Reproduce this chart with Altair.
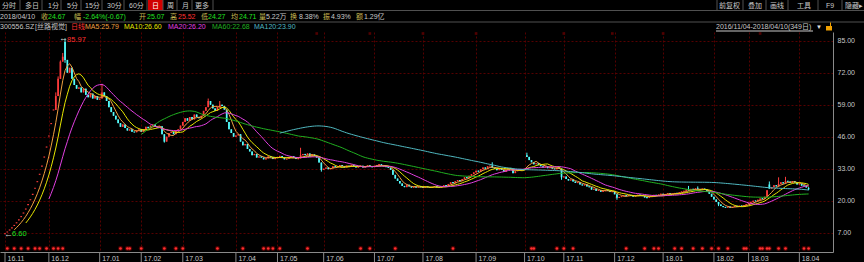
import altair as alt
import pandas as pd

# ---------------- data ----------------
# daily closes, 2016/11/04 .. 2018/04/10 (349 trading days)
closes = [
    # IPO run of one-price limit-up days
    6.60, 7.31, 8.10, 8.98, 9.95, 11.02, 12.21, 13.53, 14.99, 16.61, 18.40,
    20.39, 22.59, 25.03, 27.73, 30.73, 34.05, 37.73, 41.80, 46.31, 51.32, 56.86,
    62.5, 69.5, 76.5, 78.5, 77.2,
    72.0, 74.0, 69.5, 67.0, 65.5,
    66.0, 64.0, 65.5, 63.0, 62.0, 63.5, 61.5, 62.5, 61.0,
    61.5, 64.0, 62.5,
    60.5, 58.0, 56.0, 54.5, 53.0,
    51.5, 50.0, 51.0, 49.5,
    48.5, 49.0, 48.0, 47.8, 48.5, 49.0, 48.0, 49.0,
    50.0, 49.5, 50.5, 51.0, 50.0, 49.8, 50.2,
    47.0, 44.0,
    46.0, 47.5, 48.0, 47.0, 48.5, 49.0,
    50.5, 52.0, 53.5, 52.5, 54.0, 53.0, 55.0, 54.0, 53.5, 54.5,
    56.5, 58.0, 60.5, 59.0, 57.5,
    56.5, 58.0, 59.0, 58.5, 57.0,
    52.0, 49.0, 47.5, 46.0,
    46.5, 47.0, 44.0, 42.5, 43.0,
    41.0, 40.0, 38.5, 39.0, 37.5, 38.0,
    37.5, 36.8, 37.2, 38.0, 37.6, 36.9, 37.3, 37.8, 38.2, 37.5, 36.8, 37.0,
    37.6, 38.1, 37.4, 36.9, 37.2, 38.5,
    39.0, 38.5, 39.2, 38.0, 38.8, 38.2, 37.5,
    35.5, 32.5, 33.0,
    33.5, 32.8, 33.2, 34.0, 33.6, 34.0,
    34.5, 34.0, 33.5, 34.2, 33.8, 34.6, 33.9, 33.5,
    33.8, 34.2, 33.5, 33.9, 34.3, 34.0, 33.6, 34.1, 34.5, 34.8, 34.2, 34.0, 33.7, 33.4,
    32.5, 30.5, 29.0, 28.0,
    27.0, 26.0, 25.5, 26.5, 25.8, 25.3,
    25.6, 25.4, 25.8, 25.5, 25.3, 25.7, 25.5, 25.2, 25.6, 25.9, 25.4, 25.3, 25.7,
    26.3, 26.0, 26.8, 27.5, 27.2, 27.9, 28.4, 28.0, 28.8, 29.5, 29.2, 30.1, 30.8,
    31.5, 32.2, 31.8, 32.8, 33.5, 33.0, 34.0, 34.2, 33.4,
    33.0, 32.4, 33.2, 32.5, 31.8, 32.6, 33.3, 32.9,
    31.2, 32.0, 32.4, 32.8, 32.5, 33.0,
    37.8, 36.5, 35.6, 34.8, 35.2,
    34.6, 34.0, 33.5, 33.9, 33.2, 33.6, 33.0, 32.8, 33.4, 33.0,
    29.5, 29.8,
    28.8, 28.2, 28.6, 27.8, 27.2, 27.5, 26.6, 26.2, 26.6, 25.8, 25.5,
    24.5, 24.8, 24.0, 24.3, 23.6, 23.9, 24.4, 24.0, 23.5, 23.8,
    22.6, 21.2,
    21.5, 21.8, 22.2, 21.9, 22.3, 22.0, 21.7, 22.1, 22.4, 22.2, 21.9, 21.3,
    21.2, 21.7, 22.0, 22.3, 22.1, 22.5, 22.8, 22.4, 22.7, 23.0, 22.8,
    22.8, 23.1, 23.0, 23.4, 23.7,
    24.0, 24.5, 24.2, 24.8, 24.5, 25.0, 24.6, 24.3, 24.9, 24.5,
    23.6, 22.8, 21.6, 20.5, 19.5, 18.5,
    17.8, 17.4, 17.2, 17.6, 17.1, 17.4, 17.9, 17.5, 18.0, 17.7, 18.2, 18.6,
    19.1, 19.5, 20.0, 19.8, 20.4, 20.9, 20.7,
    21.6, 24.2, 24.9, 25.5, 26.3, 25.8, 26.8, 27.5, 27.0, 28.0,
    27.8, 27.2, 28.0, 27.4, 26.6,
    26.9, 26.1, 26.0, 25.34, 24.67,
]
one_price_days = 22          # opening run where open = high = low = close
open_gaps = {26: 84.5, 226: 38.5, 331: 26.6, 348: 25.07}
high_wicks = {22: 64.0, 23: 70.5, 24: 77.0, 25: 80.0, 26: 85.97, 42: 67.5, 88: 61.5,
              93: 60.5, 128: 41.5, 211: 35.6, 226: 39.5, 296: 26.0, 300: 25.8,
              331: 27.8, 335: 29.5, 338: 29.7, 348: 25.52}
low_wicks = {26: 76.0, 69: 43.6, 137: 31.8, 241: 28.5, 265: 20.4, 309: 17.8, 348: 24.27}

event_days = [1, 4, 7, 10, 13, 15, 18, 21, 23, 25, 50, 53, 54, 59, 69, 74, 77,
              92, 103, 112, 114, 116, 119, 131, 154, 158, 169, 194, 228, 229, 239,
              242, 246, 269, 277, 281, 283, 290, 293, 298, 302, 306, 309, 313, 320,
              321, 327, 328, 330, 331, 335, 338, 346, 348]
flag_days = [135, 158, 181, 204, 242, 263, 285, 327]

month_days = [0, 19, 41, 59, 77, 100, 118, 138, 160, 181, 204, 225, 242, 264, 285, 307, 322, 344]
month_labels = ["16.11", "16.12", "17.01", "17.02", "17.03", "17.04", "17.05", "17.06",
                "17.07", "17.08", "17.09", "17.10", "17.11", "17.12", "18.01", "18.02",
                "18.03", "18.04"]
price_ticks = [7, 20, 33, 46, 59, 72, 85]

ma_periods = [5, 10, 20, 60, 120]
ma_colors = ["#f0a040", "#e6e600", "#e040e0", "#20b020", "#50b8c0"]

# ---------------- build table ----------------
rows = []
for i, c in enumerate(closes):
    if i < one_price_days:
        o = c
    elif i in open_gaps:
        o = open_gaps[i]
    else:
        o = closes[i - 1]
    h = max(o, c, high_wicks.get(i, 0))
    lo = min(o, c, low_wicks.get(i, 1e9))
    bl, bh = min(o, c), max(o, c)
    if bh - bl < 0.45:
        m = (bl + bh) / 2
        bl, bh = m - 0.225, m + 0.225
    d = "down" if c < o else "up"
    rows.append(dict(day=i, open=o, close=c, high=h, low=lo, blo=bl, bhi=bh, dir=d))
df = pd.DataFrame(rows)

RED = "#ff3c3c"
CYAN = "#54fcfc"
GRID = "#560000"
AXC = "#8a8a8a"
LAB = "#c8c8c8"
FONT = "Liberation Sans, Noto Sans CJK SC"
FS = 7

xs = alt.Scale(domain=[0, 356.4], nice=False, zero=False)
ys = alt.Scale(domain=[-0.84, 88.53], nice=False, zero=False)

label_expr = "[" + ",".join("'%s'" % s for s in month_labels) + "][indexof([" + \
    ",".join(str(d) for d in month_days) + "], datum.value)]"

x_axis = alt.Axis(values=month_days, labelExpr=label_expr, grid=True, gridColor=GRID,
                  gridDash=[2, 2], gridWidth=1, domain=True, domainColor=AXC, ticks=False,
                  labelColor=LAB, labelFont=FONT, labelFontSize=FS, labelAlign="left",
                  labelBaseline="top", labelPadding=2, labelOffset=2, labelFlush=False,
                  labelOverlap=False, title=None)
y_axis = alt.Axis(orient="right", values=price_ticks, format=".2f", grid=True, gridColor=GRID,
                  gridDash=[2, 2], gridWidth=1, domain=True, domainColor=AXC, ticks=False,
                  labelColor=LAB, labelFont=FONT, labelFontSize=FS, labelPadding=4,
                  labelFlush=False, labelOverlap=False, title=None)


def X(field="day"):
    return alt.X(field + ":Q", scale=xs, axis=x_axis)


def Y(field):
    return alt.Y(field + ":Q", scale=ys, axis=y_axis)


color_enc = alt.Color("dir:N", scale=alt.Scale(domain=["up", "down"], range=[RED, CYAN]), legend=None)
base = alt.Chart(df)

wicks = base.mark_rule(strokeWidth=1).encode(x=X(), y=Y("low"), y2="high", color=color_enc)
bodies = base.mark_bar(size=1.7).encode(x=X(), y=Y("blo"), y2="bhi", color=color_enc)

ma_layers = []
for n, col in zip(ma_periods, ma_colors):
    ma_layers.append(
        base.transform_window(
            ma="mean(close)", cnt="count()", frame=[-(n - 1), 0],
            sort=[alt.SortField("day", order="ascending")]
        ).transform_filter("datum.cnt >= %d" % n).mark_line(strokeWidth=1, color=col).encode(
            x=X(), y=Y("ma"))
    )

# peak / low annotations (taken from the table)
peak = base.transform_window(r="rank()", sort=[alt.SortField("high", order="descending")]
                             ).transform_filter("datum.r == 1")
trough = base.transform_window(r="rank()", sort=[alt.SortField("low", order="ascending")]
                               ).transform_filter("datum.r == 1")
peak_arrow = peak.mark_text(text="\u2190", align="right", baseline="middle", dx=3, fontSize=9,
                            font=FONT, color="#d0d0d0").encode(x=X(), y=Y("high"))
peak_txt = peak.mark_text(align="left", baseline="middle", dx=2, dy=2, fontSize=FS + 0.5,
                          font=FONT, color="#ff3030").encode(
    x=X(), y=Y("high"), text=alt.Text("high:Q", format=".2f"))
low_arrow = trough.mark_text(text="\u2190", align="left", baseline="middle", dx=-1, fontSize=9,
                             font=FONT, color="#d0d0d0").encode(x=X(), y=Y("low"))
low_txt = trough.mark_text(align="left", baseline="middle", dx=7, fontSize=FS + 0.5, font=FONT,
                           color="#20e020").encode(
    x=X(), y=Y("low"), text=alt.Text("low:Q", format=".2f"))

ev = pd.DataFrame({"day": event_days})
ev_halo = alt.Chart(ev).mark_circle(size=24, color="#500000", opacity=1).encode(
    x=X(), y=alt.value(216.5))
ev_dot = alt.Chart(ev).mark_circle(size=7, color="#ff3030", opacity=1).encode(
    x=X(), y=alt.value(216.5))
fl = pd.DataFrame({"day": flag_days})
flags = alt.Chart(fl).mark_square(size=7, color="#500000", opacity=1).encode(
    x=X(), y=alt.value(1.5))

md = pd.DataFrame({"day": month_days})
month_sep = alt.Chart(md).mark_rule(color=AXC, strokeWidth=1).encode(
    x=X(), y=alt.value(220), y2=alt.value(230))

# ---------------- header decoration ----------------
dummy = pd.DataFrame({"k": [0]})
deco = []


def txt(s, x, y, color=LAB, size=FS, align="left"):
    deco.append(alt.Chart(dummy).mark_text(text=s, align=align, baseline="middle", font=FONT,
                                           fontSize=size, color=color).encode(
        x=alt.value(x), y=alt.value(y)))


def hline(y, x1, x2, color="#505050"):
    deco.append(alt.Chart(dummy).mark_rule(color=color, strokeWidth=1).encode(
        x=alt.value(x1), x2=alt.value(x2), y=alt.value(y)))


def vline(x, y1, y2, color="#505050"):
    deco.append(alt.Chart(dummy).mark_rule(color=color, strokeWidth=1).encode(
        x=alt.value(x), y=alt.value(y1), y2=alt.value(y2)))


deco.append(alt.Chart(dummy).mark_rect(color="#d00000").encode(
    x=alt.value(148), x2=alt.value(163), y=alt.value(-32), y2=alt.value(-22)))
R1, R2, R3 = -26.5, -15.5, -5
for s, x in [("分时", 2), ("多日", 25), ("1分", 48), ("5分", 67), ("15分", 85), ("30分", 107),
             ("60分", 129), ("周", 167), ("月", 182), ("更多", 195)]:
    txt(s, x, R1)
txt("日", 152, R1, color="#ffffff")
for s, x in [("前复权", 719), ("叠加", 748), ("画线", 770), ("工具", 797), ("F9", 826), ("隐藏▸", 845)]:
    txt(s, x, R1)
for x in [20, 42, 61, 81, 102, 124, 147, 163, 177, 192, 213, 717, 743, 766, 788, 818, 842]:
    vline(x, -32, -22)
hline(-21.5, 0, 864)
hline(-10, 0, 864)

LBL = "#c8b850"
GRN = "#20e020"
txt("2018/04/10", 0, R2)
for s, x, c in [("收", 41, LBL), ("24.67", 48, GRN), ("幅", 74, LBL), ("-2.64%(-0.67)", 83, GRN),
                ("开", 139, LBL), ("25.07", 147, GRN), ("高", 170, LBL), ("25.52", 178, "#ff3030"),
                ("低", 201, LBL), ("24.27", 208, GRN), ("均", 231, LBL), ("24.71", 239, GRN),
                ("量", 259, LBL), ("5.22万", 266, LAB), ("换", 290, LBL), ("8.38%", 299, LAB),
                ("振", 323, LBL), ("4.93%", 331, LAB), ("额", 356, LBL), ("1.29亿", 364, LAB)]:
    txt(s, x, R2, color=c)

txt("300556.SZ", 0, R3)
txt("[丝路视觉]", 35, R3)
txt("日线", 71, R3, color="#ff3030")
for s, x, c in zip(["MA5:25.79", "MA10:26.60", "MA20:26.20", "MA60:22.68", "MA120:23.90"],
                   [85, 124, 168, 212, 254], ma_colors):
    txt(s, x, R3, color=c)
txt("2016/11/04-2018/04/10(349日)", 716, R3 - 0.5, color=LAB)
hline(-1, 716, 813, color=LAB)
txt("▼", 816, R3, color="#e0e0e0", size=6)
deco.append(alt.Chart(dummy).mark_rect(color="#f0a000").encode(
    x=alt.value(826), x2=alt.value(832), y=alt.value(-6), y2=alt.value(-1.5)))
vline(830.5, -9.5, -6, color="#f0a000")

chart = alt.layer(
    wicks, bodies, *ma_layers, ev_halo, ev_dot, flags, month_sep,
    peak_arrow, peak_txt, low_arrow, low_txt, *deco
).properties(
    width=833, height=220,
    autosize=alt.AutoSizeParams(type="none"),
    padding={"left": 0, "top": 32, "right": 31, "bottom": 10},
    background="#000000",
).configure_view(stroke=None)

chart.save("out.html", embed_options={"renderer": "svg", "actions": False})
